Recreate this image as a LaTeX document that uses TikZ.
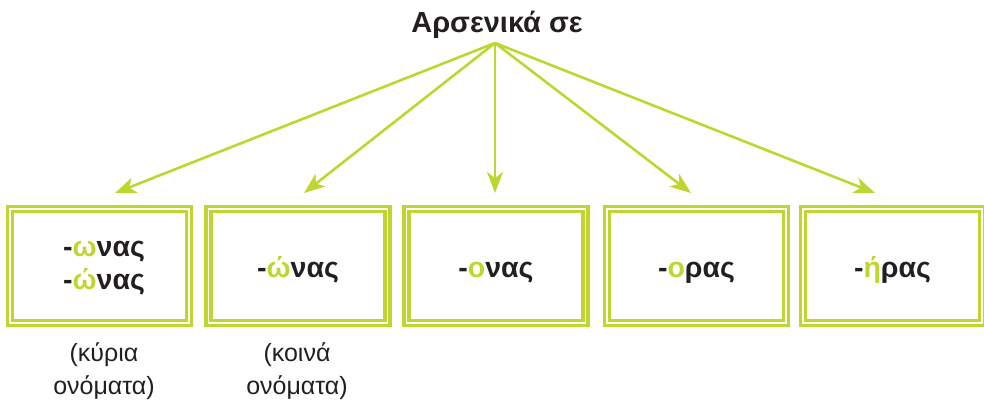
\documentclass[tikz,border=0pt]{standalone}
\usepackage{fontspec}
\setmainfont{Liberation Sans}
\usetikzlibrary{arrows.meta}
\definecolor{lime}{HTML}{BFD630}
\definecolor{ink}{HTML}{231F20}
\tikzset{
  framebox/.style={draw=lime, line width=3.2pt, double=white, double distance=1.8pt,
    minimum width=179pt, minimum height=114pt, inner sep=0pt},
  word/.style={font=\fontsize{28.5}{33}\selectfont\bfseries, text=ink, align=center, inner sep=0pt},
  conn/.style={draw=lime, line width=2.6pt, -{Stealth[length=21pt,width=16pt,inset=6pt]}},
  note/.style={font=\fontsize{25}{33}\selectfont, text=ink, align=center}
}
\newcommand{\gv}[1]{\textcolor{lime}{#1}}
\begin{document}
\begin{tikzpicture}[x=1pt,y=-1pt]
\useasboundingbox (0,0) rectangle (984,407);
\node[anchor=base, font=\fontsize{29}{33}\selectfont\bfseries, text=ink] (title) at (497,32) {Αρσενικά σε};
\coordinate (src) at (495,43);
\node[framebox] (b1) at (99.5,266) {};
\node[framebox] (b2) at (298,266) {};
\node[framebox] (b3) at (496,266) {};
\node[framebox] (b4) at (696.5,266) {};
\node[framebox] (b5) at (892.5,266) {};
\node[word, anchor=base] (w1a) at (104,256) {-\gv{ω}νας};
\node[word, anchor=base] (w1b) at (104,289) {-\gv{ώ}νας};
\node[word, anchor=base] (w2) at (298,277) {-\gv{ώ}νας};
\node[word, anchor=base] (w3) at (496,277) {-\gv{ο}νας};
\node[word, anchor=base] (w4) at (696.5,277) {-\gv{ο}ρας};
\node[word, anchor=base] (w5) at (892.5,277) {-\gv{ή}ρας};
\coordinate (t1) at (115,193);
\coordinate (t2) at (304,193);
\coordinate (t3) at (495,193);
\coordinate (t4) at (691,193);
\coordinate (t5) at (875,193);
\foreach \i in {1,...,5} \draw[conn] (src) -- (t\i);
\node[note] (n1) at (104,371) {(κύρια\\ονόματα)};
\node[note] (n2) at (297,371) {(κοινά\\ονόματα)};
\end{tikzpicture}
\end{document}
